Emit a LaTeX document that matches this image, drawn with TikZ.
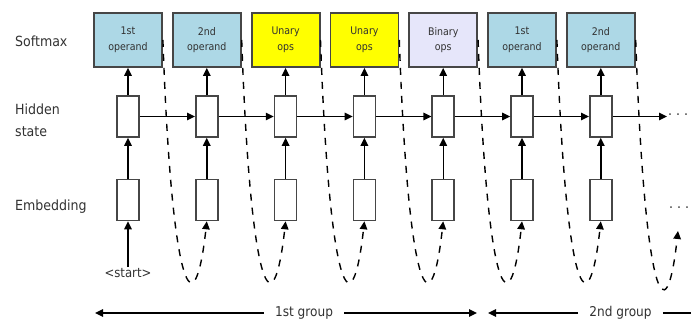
\documentclass[tikz,border=0pt]{standalone}
\usepackage{fontspec}
\setmainfont{DejaVu Sans Condensed}
\usetikzlibrary{arrows.meta}
\definecolor{opblue}{RGB}{173,216,230}
\definecolor{unyellow}{RGB}{255,255,0}
\definecolor{binlav}{RGB}{230,230,250}
\definecolor{edgegray}{RGB}{70,70,70}
\definecolor{ink}{RGB}{50,50,50}

\begin{document}
\begin{tikzpicture}[x=1pt,y=-1pt,
  smbox/.style={draw=edgegray, line width=1.8pt, minimum width=68pt, minimum height=54pt,
    inner sep=0pt, align=center, font=\fontsize{10.5}{15.5}\selectfont, text=ink},
  cell/.style={draw=edgegray, fill=white, line width=1.6pt, minimum width=22pt,
    minimum height=41pt, inner sep=0pt},
  link/.style={-{Triangle[length=8pt,width=7.5pt]}, line width=1.4pt},
  feedback/.style={-{Triangle[length=8pt,width=7.5pt]}, line width=1.4pt, dash pattern=on 7pt off 7pt},
  rowlabel/.style={anchor=west, font=\fontsize{14}{22}\selectfont, text=ink, align=left, inner sep=0pt},
  grouplabel/.style={font=\fontsize{13.5}{16}\selectfont, text=ink, inner xsep=11pt, inner ysep=0pt},
  moredots/.style={font=\fontsize{14}{16}\selectfont, text=ink, inner sep=0pt}
]
\useasboundingbox (0,0) rectangle (691,320);

% row labels
\node[rowlabel] (lsoft) at (15,41) {Softmax};
\node[rowlabel] (lhid) at (15,120) {Hidden\\state};
\node[rowlabel] (lemb) at (15,207) {Embedding};

% softmax outputs
\node[smbox, fill=opblue]   (s1) at (128,40)   {1st\\operand};
\node[smbox, fill=opblue]   (s2) at (206.8,40) {2nd\\operand};
\node[smbox, fill=unyellow] (s3) at (285.6,40) {Unary\\ops};
\node[smbox, fill=unyellow] (s4) at (364.4,40) {Unary\\ops};
\node[smbox, fill=binlav]   (s5) at (443.2,40) {Binary\\ops};
\node[smbox, fill=opblue]   (s6) at (522,40)   {1st\\operand};
\node[smbox, fill=opblue]   (s7) at (600.8,40) {2nd\\operand};

% hidden state and embedding cells
\foreach \i/\x in {1/128,2/206.8,3/285.6,4/364.4,5/443.2,6/522,7/600.8}{
  \node[cell] (h\i) at (\x,116.5) {};
  \node[cell] (e\i) at (\x,200) {};
  \draw[link] (h\i.north) -- (s\i.south);
  \draw[link] (e\i.north) -- (h\i.south);
}

% recurrent connections
\foreach \i/\j in {1/2,2/3,3/4,4/5,5/6,6/7}{
  \draw[link] (h\i.east) -- (h\j.west);
}
\coordinate (hend) at (667,116.5);
\draw[link] (h7.east) -- (hend);
\node[moredots, anchor=west] (hdots) at (668,116.5) {· · ·};

% start token
\node[font=\fontsize{13}{15}\selectfont, text=ink, inner sep=1pt] (start) at (128,273) {<start>};
\draw[link] (start.north) -- (e1.south);

% sampled output fed back as next input
\foreach \i/\j in {1/2,2/3,3/4,4/5,5/6,6/7}{
  \draw[feedback] (s\i.east) .. controls +(9,260) and +(-12,109) .. (e\j.south);
}
\coordinate (more) at (678,231);
\draw[feedback] (s7.east) .. controls +(9,260) and +(-12,109) .. (more);
\node[moredots, anchor=west] (edots) at (669,210) {· · ·};

% group spans
\node[grouplabel] (g1) at (304,313) {1st group};
\coordinate (g1l) at (95,313);
\coordinate (g1r) at (477,313);
\draw[link] (g1.west) -- (g1l);
\draw[link] (g1.east) -- (g1r);
\node[grouplabel] (g2) at (620.5,313) {2nd group};
\coordinate (g2l) at (488,313);
\coordinate (g2r) at (691,313);
\draw[link] (g2.west) -- (g2l);
\draw[line width=1.4pt] (g2.east) -- (g2r);
\end{tikzpicture}
\end{document}
